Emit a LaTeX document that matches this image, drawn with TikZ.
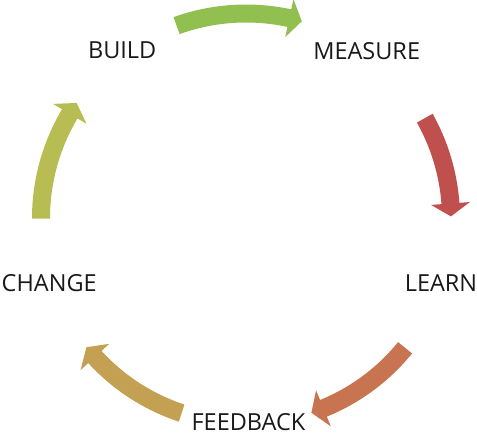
\documentclass[tikz,border=0pt]{standalone}
\usepackage{fontspec}
\setmainfont{Open Sans}
\definecolor{cgreen}{HTML}{92C050}
\definecolor{cred}{HTML}{C0504D}
\definecolor{corange}{HTML}{C87450}
\definecolor{cgold}{HTML}{C3A052}
\definecolor{colive}{HTML}{B7BD52}
\newcommand\cycarrow[3]{%
  \pgfmathsetmacro\hb{#2+3.6}%
  \fill[#3] (#1:214) arc[start angle=#1, end angle=\hb, radius=214]
    -- (\hb:224.5) -- (#2:205) -- (\hb:185.5) -- (\hb:196)
    arc[start angle=\hb, end angle=#1, radius=196] -- cycle;}
\tikzset{lbl/.style={anchor=base, inner sep=0pt, font=\fontsize{23.5}{28}\selectfont, text=black!90}}
\begin{document}
\begin{tikzpicture}[x=1pt,y=-1pt]
\useasboundingbox (0,0) rectangle (477,434);
\begin{scope}[shift={(246,218.5)}, y=1pt]
  \cycarrow{109.8}{74.2}{cgreen}
  \cycarrow{29.3}{0.6}{cred}
  \cycarrow{-39.1}{-71.4}{corange}
  \cycarrow{-108.3}{-141.1}{cgold}
  \cycarrow{180}{145.7}{colive}
\end{scope}
\node[lbl] (build) at (122.2,58.5) {BUILD};
\node[lbl] (measure) at (366.7,59.3) {MEASURE};
\node[lbl] (learn) at (441,291) {LEARN};
\node[lbl] (feedback) at (248.5,430.5) {FEEDBACK};
\node[lbl] (change) at (49.2,291) {CHANGE};
\end{tikzpicture}
\end{document}
